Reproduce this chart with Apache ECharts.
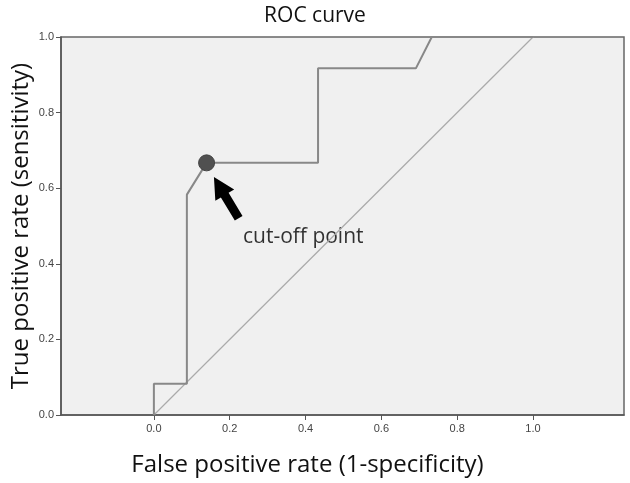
<!DOCTYPE html>
<html>
<head>
<meta charset="utf-8">
<script src="https://cdn.jsdelivr.net/npm/echarts@6/dist/echarts.min.js"></script>
<style>
  html, body { margin: 0; padding: 0; background: #fff; }
  #main { width: 630px; height: 483px; }
</style>
</head>
<body>
<div id="main"></div>
<script>
// ROC curve points (1-specificity, sensitivity)
var rocX = [0, 0, 0.087, 0.087, 0.139, 0.433, 0.433, 0.691, 0.733, 1.0];
var rocY = [0, 0.083, 0.083, 0.583, 0.667, 0.667, 0.917, 0.917, 1.0, 1.0];
// reference (chance) line
var refX = [0, 1];
var refY = [0, 1];
// the cut-off point
var cutoff = [0.139, 0.667];
var tickValues = [0, 0.2, 0.4, 0.6, 0.8, 1.0];

var rocData = [];
for (var i = 0; i < rocX.length; i++) {
    rocData.push([rocX[i], rocY[i]]);
}
var refData = [];
for (var j = 0; j < refX.length; j++) {
    refData.push([refX[j], refY[j]]);
}

var tickFont = {color: '#444', fontSize: 11, fontFamily: 'Liberation Sans, Arial'};

var myChart = echarts.init(document.getElementById('main'));
myChart.setOption({
    backgroundColor: '#fff',
    animation: false,
    title: {
        text: 'ROC curve',
        left: 'center',
        top: 1,
        textStyle: {fontFamily: 'Open Sans', fontSize: 21, fontWeight: 'normal', color: '#111'}
    },
    grid: {
        left: 61, right: 6, top: 37, bottom: 68,
        outerBoundsMode: 'none',
        containLabel: false,
        show: true,
        backgroundColor: '#f0f0f0',
        borderColor: '#666',
        borderWidth: 1.5
    },
    xAxis: {
        type: 'value',
        min: -0.245,
        max: 1.24,
        name: 'False positive rate (1-specificity)',
        nameLocation: 'middle',
        nameGap: 38,
        nameTextStyle: {fontFamily: 'Open Sans', fontSize: 24, color: '#111', padding: [0, 70, 0, 0]},
        splitLine: {show: false},
        axisLine: {onZero: false, lineStyle: {color: '#555', width: 1.5}},
        axisTick: {show: true, length: 5, customValues: tickValues, lineStyle: {color: '#555'}},
        axisLabel: Object.assign({customValues: tickValues, margin: 8,
            formatter: function (v) { return v.toFixed(1); }}, tickFont)
    },
    yAxis: {
        type: 'value',
        min: 0,
        max: 1,
        interval: 0.2,
        name: 'True positive rate (sensitivity)',
        nameLocation: 'middle',
        nameGap: 28,
        nameMoveOverlap: false,
        nameTextStyle: {fontFamily: 'Open Sans', fontSize: 24, color: '#111'},
        splitLine: {show: false},
        axisLine: {show: true, onZero: false, lineStyle: {color: '#555', width: 1.5}},
        axisTick: {show: true, length: 5, lineStyle: {color: '#555'}},
        axisLabel: Object.assign({margin: 7,
            formatter: function (v) { return v.toFixed(1); }}, tickFont)
    },
    series: [
        {
            name: 'reference',
            type: 'line',
            data: refData,
            symbol: 'none',
            clip: false,
            lineStyle: {color: '#aaa', width: 1.2}
        },
        {
            name: 'ROC',
            type: 'line',
            data: rocData,
            symbol: 'none',
            clip: false,
            lineStyle: {color: '#888', width: 2}
        },
        {
            name: 'cut-off',
            type: 'scatter',
            data: [cutoff],
            symbolSize: 16,
            itemStyle: {color: '#505050', borderColor: '#444', borderWidth: 1, opacity: 1},
            z: 5
        },
        {
            name: 'arrow',
            type: 'scatter',
            data: [[0.191, 0.575]],
            symbol: 'path://M11,0 L22,21 L15.5,21 L15.5,48 L6.5,48 L6.5,21 L0,21 Z',
            symbolSize: [22, 48],
            symbolRotate: 31,
            itemStyle: {color: '#000', opacity: 1},
            z: 6
        },
        {
            name: 'label',
            type: 'scatter',
            data: [[0.235, 0.471]],
            symbolSize: 0,
            label: {
                show: true,
                position: 'right',
                distance: 0,
                formatter: 'cut-off point',
                fontFamily: 'Open Sans',
                fontSize: 21,
                color: '#000'
            }
        }
    ]
});
</script>
</body>
</html>
